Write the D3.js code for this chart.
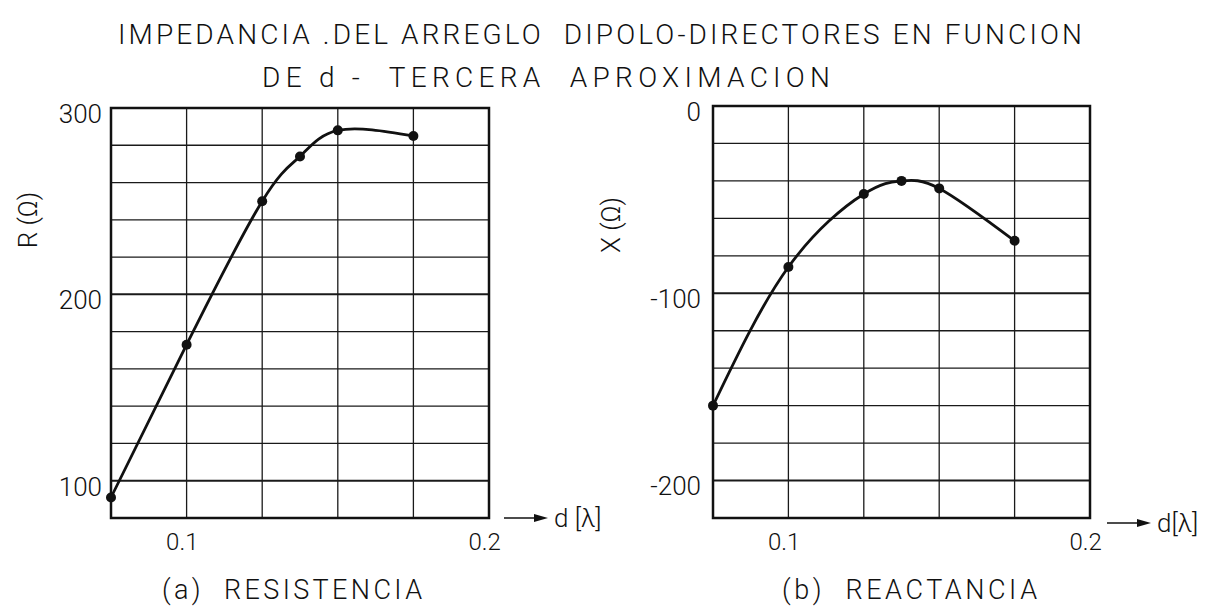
<!DOCTYPE html>
<html>
<head>
<meta charset="utf-8">
<script src="https://cdn.jsdelivr.net/npm/d3@7"></script>
<style>
  body { margin: 0; background: #fff; }
  text { font-family: Roboto, "DejaVu Sans", sans-serif; font-weight: 300; fill: #111; }
</style>
</head>
<body>
<div id="chart"></div>
<script>
// values
const dValues = [0.075, 0.1, 0.125, 0.1375, 0.15, 0.175];
const resistance = [91, 173, 250, 274, 288, 285];
const reactance = [-160, -86, -47, -40, -44, -72];

const xTickLabels = [0.1, 0.2];
const rTickLabels = [100, 200, 300];
const xTickLabelsReact = [0, -100, -200];

const titleLines = [
  "IMPEDANCIA .DEL ARREGLO  DIPOLO-DIRECTORES EN FUNCION",
  "DE d -  TERCERA  APROXIMACION"
];

const W = 1227, H = 606;

const svg = d3.select("#chart")
  .append("svg")
    .attr("width", W)
    .attr("height", H);

svg.append("text")
  .attr("x", 118).attr("y", 44)
  .attr("textLength", 964).attr("lengthAdjust", "spacing")
  .style("white-space", "pre")
  .style("font-size", "28px")
  .text(titleLines[0]);

svg.append("text")
  .attr("x", 262).attr("y", 87)
  .attr("textLength", 568).attr("lengthAdjust", "spacing")
  .style("white-space", "pre")
  .style("font-size", "28px")
  .text(titleLines[1]);

function panel(opts) {
  const x = d3.scaleLinear().domain([0.075, 0.2]).range([opts.left, opts.right]);
  const y = d3.scaleLinear().domain(opts.yDomain).range([518, opts.top]);

  const g = svg.append("g");

  // grid
  const xGrid = d3.range(0.075, 0.2001, 0.025);
  const yGrid = d3.range(opts.yDomain[0], opts.yDomain[1] + 0.1, 20);

  g.selectAll(".hgrid")
    .data(yGrid)
    .enter()
    .append("line")
      .attr("x1", x(0.075)).attr("x2", x(0.2))
      .attr("y1", d => y(d)).attr("y2", d => y(d))
      .attr("stroke", "#1a1a1a")
      .attr("stroke-width", d => opts.yTicks.includes(d) ? 2 : 1.3);

  g.selectAll(".vgrid")
    .data(xGrid)
    .enter()
    .append("line")
      .attr("x1", d => x(d)).attr("x2", d => x(d))
      .attr("y1", y(opts.yDomain[0])).attr("y2", y(opts.yDomain[1]))
      .attr("stroke", "#1a1a1a")
      .attr("stroke-width", 1.3);

  g.append("rect")
    .attr("x", x(0.075)).attr("y", y(opts.yDomain[1]))
    .attr("width", x(0.2) - x(0.075))
    .attr("height", y(opts.yDomain[0]) - y(opts.yDomain[1]))
    .attr("fill", "none")
    .attr("stroke", "#111")
    .attr("stroke-width", 2.5);

  // axes (labels only)
  const yAxis = g.append("g")
    .attr("transform", "translate(" + x(0.075) + ",0)")
    .call(d3.axisLeft(y).tickValues(opts.yTicks).tickSize(0).tickPadding(opts.yPad).tickFormat(d => String(d)));
  yAxis.select(".domain").remove();
  yAxis.selectAll("text")
    .attr("dy", "0.55em")
    .style("font-size", "26px")
    .style("font-family", "Roboto, 'DejaVu Sans', sans-serif")
    .attr("fill", "#111");

  const xAxis = g.append("g")
    .attr("transform", "translate(0," + y(opts.yDomain[0]) + ")")
    .call(d3.axisBottom(x).tickValues(xTickLabels).tickSize(0).tickPadding(15).tickFormat(d => String(d)));
  xAxis.select(".domain").remove();
  xAxis.selectAll("text")
    .attr("dx", "-0.2em")
    .style("font-size", "24px")
    .style("font-family", "Roboto, 'DejaVu Sans', sans-serif")
    .attr("fill", "#111");

  // y title
  g.append("text")
    .attr("transform", "translate(" + opts.yTitleX + "," + opts.yTitleY + ") rotate(-90)")
    .attr("text-anchor", "middle")
    .attr("dy", "0.35em")
    .style("font-size", "26px")
    .style("white-space", "pre")
    .text(opts.yTitle);

  // x title with arrow
  const ax = x(0.2) + opts.arrowGap;
  const ay = y(opts.yDomain[0]) + opts.arrowDy;
  g.append("line")
    .attr("x1", ax).attr("x2", ax + 34)
    .attr("y1", ay).attr("y2", ay)
    .attr("stroke", "#111").attr("stroke-width", 1.6);
  g.append("path")
    .attr("d", "M" + (ax + 44) + "," + ay + "L" + (ax + 30) + "," + (ay - 4) + "L" + (ax + 30) + "," + (ay + 4) + "Z")
    .attr("fill", "#111");
  g.append("text")
    .attr("x", ax + 50).attr("y", ay)
    .attr("dy", "0.35em")
    .style("font-size", "26px")
    .style("white-space", "pre")
    .text(opts.xTitle);

  // curve and points
  const pts = dValues.map((d, i) => [d, opts.values[i]]);
  const line = d3.line()
    .x(p => x(p[0]))
    .y(p => y(p[1]))
    .curve(d3.curveNatural);

  g.append("path")
    .datum(pts)
    .attr("d", line)
    .attr("fill", "none")
    .attr("stroke", "#111")
    .attr("stroke-width", 2.8);

  g.selectAll(".dot")
    .data(pts)
    .enter()
    .append("circle")
      .attr("cx", p => x(p[0]))
      .attr("cy", p => y(p[1]))
      .attr("r", 5)
      .attr("fill", "#111");

  // caption
  g.append("text")
    .attr("x", opts.capX).attr("y", 599)
    .attr("textLength", opts.capLen).attr("lengthAdjust", "spacing")
    .style("font-size", "27px")
    .style("white-space", "pre")
    .text(opts.caption);
}

panel({
  left: 111, right: 489, top: 108,
  yDomain: [80, 300],
  yTicks: rTickLabels,
  yPad: 9,
  values: resistance,
  yTitle: "R (Ω)", yTitleX: 28, yTitleY: 220,
  xTitle: "d [λ]", arrowGap: 15, arrowDy: 0,
  caption: "(a)  RESISTENCIA", capX: 162, capLen: 260
});

panel({
  left: 713, right: 1090, top: 106,
  yDomain: [-220, 0],
  yTicks: xTickLabelsReact,
  yPad: 12,
  values: reactance,
  yTitle: "X (Ω)", yTitleX: 611, yTitleY: 225,
  xTitle: "d[λ]", arrowGap: 17, arrowDy: 5,
  caption: "(b)  REACTANCIA", capX: 782, capLen: 255
});
</script>
</body>
</html>
